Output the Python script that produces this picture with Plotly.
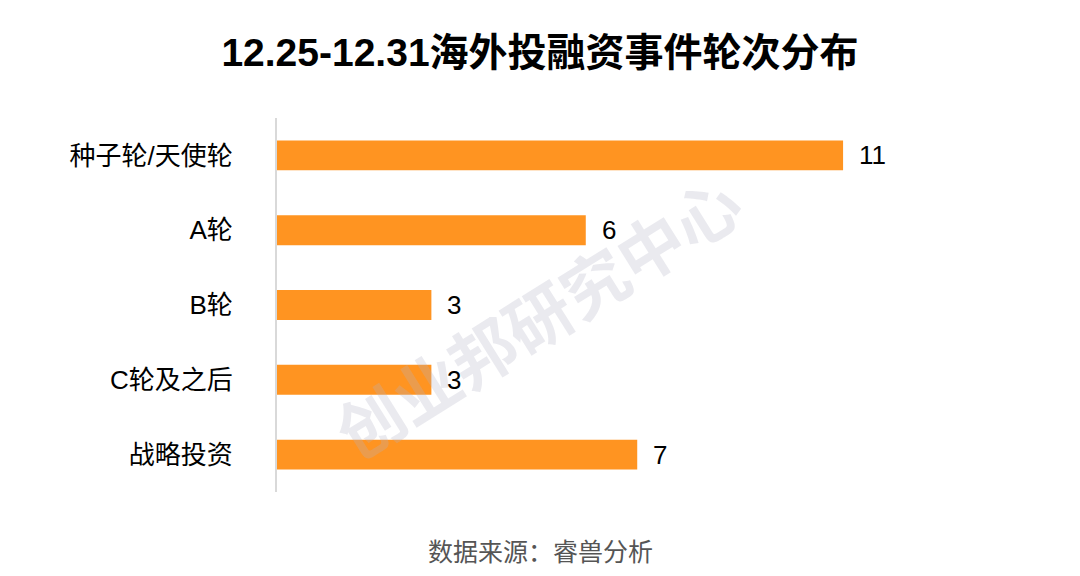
import plotly.graph_objects as go

# 数据
categories = ['种子轮/天使轮', 'A轮', 'B轮', 'C轮及之后', '战略投资']
values = [11, 6, 3, 3, 7]

font_cn = 'Liberation Sans, Noto Sans CJK SC, sans-serif'

fig = go.Figure()

fig.add_trace(go.Bar(
    x=values, y=categories, orientation='h',
    marker=dict(color='#FF9421', line=dict(width=0)),
    width=0.4,
    hoverinfo='x+y',
))

# 数值标签
for c, v in zip(categories, values):
    fig.add_annotation(x=v, y=c, text=str(v), showarrow=False,
                       xanchor='left', xshift=14,
                       font=dict(size=26, color='#000000', family=font_cn))

# 水印
fig.add_annotation(x=0.393, y=0.46, xref='paper', yref='paper', showarrow=False,
                   text='<b>创业邦研究中心</b>', textangle=-32,
                   font=dict(size=66, color='rgba(180,180,198,0.28)', family=font_cn))

# 数据来源
fig.add_annotation(x=540, y=552, xref='paper', yref='paper', showarrow=False,
                   text='数据来源：睿兽分析', yanchor='middle', xanchor='center',
                   font=dict(size=25, color='#555555', family=font_cn))

fig.update_layout(
    width=1080, height=576,
    paper_bgcolor='white', plot_bgcolor='white',
    margin=dict(l=277, r=134, t=118, b=84),
    title=dict(text='<b>12.25-12.31海外投融资事件轮次分布</b>', x=0.5, xanchor='center',
               y=1 - 52 / 576, yanchor='middle',
               font=dict(size=39, color='#000000', family=font_cn)),
    xaxis=dict(range=[0, 13], visible=False, showgrid=False, zeroline=False),
    yaxis=dict(autorange='reversed', showgrid=False, zeroline=False,
               showline=True, linecolor='#d9d9d9', linewidth=2,
               ticks='', ticklabelstandoff=37,
               tickfont=dict(size=26, color='#000000', family=font_cn)),
    showlegend=False,
)

# 数据来源 position in paper coords
plot_w = 1080 - 277 - 134
plot_h = 576 - 118 - 84
fig.layout.annotations[-1].x = (540 - 277) / plot_w
fig.layout.annotations[-1].y = (576 - 84 - 552) / plot_h

fig.write_html('out.html', config={'displayModeBar': False},
               post_script="document.body.style.margin='0';")
